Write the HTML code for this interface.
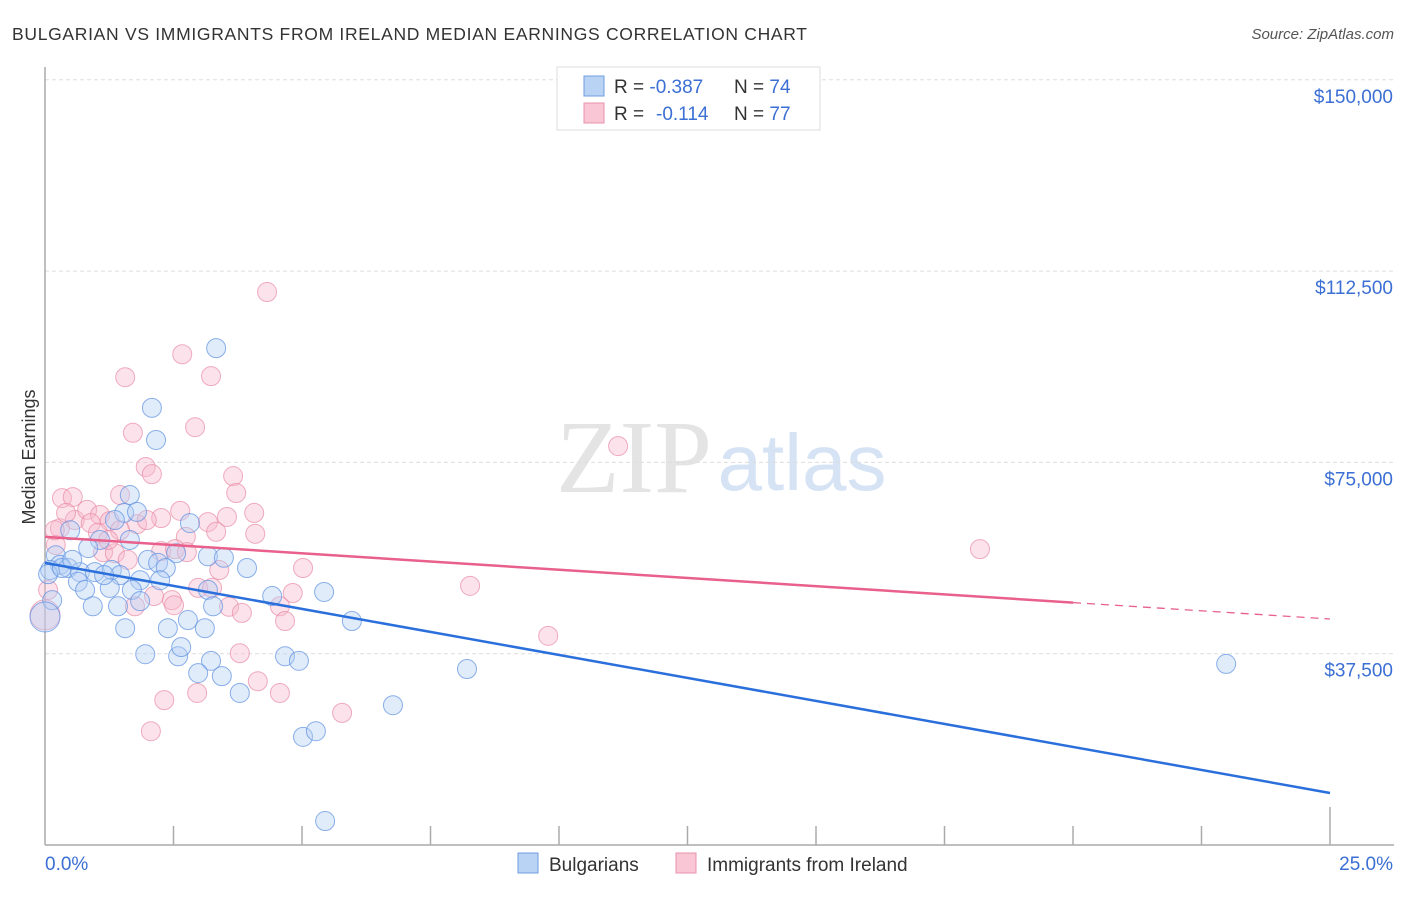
<!DOCTYPE html>
<html><head><meta charset="utf-8"><style>
body{margin:0;background:#fff;font-family:"Liberation Sans",sans-serif;}
svg text{font-family:"Liberation Sans",sans-serif;}
</style></head><body>
<svg id="chart" width="1406" height="892" viewBox="0 0 1406 892" xmlns="http://www.w3.org/2000/svg">
<text x="12" y="40" font-size="17.5" fill="#333" textLength="795">BULGARIAN VS IMMIGRANTS FROM IRELAND MEDIAN EARNINGS CORRELATION CHART</text>
<text x="1394" y="39" font-size="15" fill="#555" font-style="italic" text-anchor="end">Source: ZipAtlas.com</text>
<g>
<text x="634" y="492" font-size="104" fill="#e4e4e4" text-anchor="middle" style="font-family:'Liberation Serif',serif">ZIP</text>
<text x="802" y="490" font-size="80" fill="#d5e3f5" text-anchor="middle">atlas</text>
</g>
<g id="grid"></g>
<g id="axes"></g>
<g id="pts"></g>
<g id="lines"></g>
<text transform="translate(35,457) rotate(-90)" font-size="18" fill="#333" text-anchor="middle">Median Earnings</text>
<g>
<rect x="557" y="67" width="263" height="63" fill="#fff" stroke="#ddd"/>
<rect x="584" y="76" width="20" height="20" fill="#b9d3f5" stroke="#6f9ee0"/>
<rect x="584" y="103" width="20" height="20" fill="#f9c6d5" stroke="#ea93ad"/>
<text x="614" y="93" font-size="19" fill="#333">R = <tspan fill="#3b6fd4">-0.387</tspan><tspan x="734">N = </tspan><tspan fill="#3b6fd4">74</tspan></text>
<text x="614" y="120" font-size="19" fill="#333">R = <tspan x="656" fill="#3b6fd4">-0.114</tspan><tspan x="734">N = </tspan><tspan fill="#3b6fd4">77</tspan></text>
</g>
<g>
<rect x="518" y="853" width="20" height="20" fill="#b9d3f5" stroke="#6f9ee0"/>
<text x="549" y="871" font-size="19" fill="#333">Bulgarians</text>
<rect x="676" y="853" width="20" height="20" fill="#f9c6d5" stroke="#ea93ad"/>
<text x="707" y="871" font-size="19" fill="#333">Immigrants from Ireland</text>
</g>
</svg>
<script>
const yTicks=[37500,75000,112500,150000];
const yTickLabels=["$37,500","$75,000","$112,500","$150,000"];
const xTickCount=10;
const blueX=[3.33,2.08,2.16,1.65,1.54,1.79,1.36,2.82,0.49,1.07,1.65,0.84,3.17,3.48,2.00,2.20,2.55,2.35,3.93,0.21,0.29,0.10,0.45,0.68,0.97,1.30,1.46,0.64,0.78,1.26,1.85,1.69,2.24,3.17,4.42,5.43,0.93,1.42,1.85,3.27,1.56,2.39,2.78,3.11,5.97,1.95,2.59,2.65,3.23,4.67,4.94,2.98,3.44,3.79,8.21,6.77,5.02,5.27,5.45,22.98,0.06,0.14,0.33,0.53,1.15,0.0];
const blueY=[97400,85700,79400,68600,65100,65300,63700,63100,61700,59800,59800,58200,56600,56300,55900,55300,57200,54300,54300,56800,54900,53900,54300,53500,53500,53900,52900,51600,50000,50400,51900,50000,51900,50000,48800,49600,46800,46800,47800,46800,42500,42500,44100,42500,43900,37400,37000,38800,36100,37000,36100,33700,33100,29800,34500,27400,21200,22300,4700,35500,53100,48000,54300,55900,52900,44700];
const pinkX=[4.32,2.67,1.56,3.23,2.92,1.71,11.15,1.96,2.08,3.66,3.72,1.46,0.33,0.54,4.07,2.63,2.26,0.58,0.82,1.07,0.89,1.26,1.79,1.98,3.17,3.54,1.46,1.03,4.09,2.74,0.29,0.21,1.13,1.36,2.26,2.53,2.76,3.33,18.19,5.02,3.39,8.27,2.98,4.82,3.25,2.47,2.12,4.57,3.58,3.83,4.67,9.79,2.51,3.79,4.14,4.57,2.32,2.96,5.78,2.06,0.06,0.19,0.41,1.23,1.61,1.75,0.0];
const pinkY=[108400,96200,91700,91900,81900,80800,78200,74100,72700,72300,69000,68600,68000,68200,65100,65500,64100,63700,65700,64700,63100,63500,62900,63700,63300,64300,61700,61200,61000,60400,62100,58800,57400,57200,57600,58000,57400,61400,58000,54300,53900,50800,50400,49400,50400,48000,48800,46800,46700,45500,43900,41000,47000,37600,32100,29800,28400,29800,25900,22300,50000,61700,65100,59800,55900,46800,45100];
const blueTrend=[55300,10200];
const pinkTrend=[60400,44300];
const pinkSolidEnd=20;
const NS="http://www.w3.org/2000/svg";
const X=p=>45+p*(1285/25);
const Y=v=>845-v*(191.3/37500);
function mk(tag,attrs,parent){const e=document.createElementNS(NS,tag);for(const k in attrs)e.setAttribute(k,attrs[k]);parent.appendChild(e);return e;}
const grid=document.getElementById('grid'),axes=document.getElementById('axes'),pts=document.getElementById('pts'),lines=document.getElementById('lines');
yTicks.forEach((t,i)=>{
 const l=mk('line',{x1:45,x2:1394,y1:Y(t),y2:Y(t),stroke:'#ddd','stroke-dasharray':'4,3'},grid);
 
 
 const tx=mk('text',{x:1393,y:Y(t)+23,'font-size':19,fill:'#3b6fd4','text-anchor':'end'},grid);
 tx.textContent=yTickLabels[i];
 
 
});
const ya=mk('line',{x1:45,x2:45,y1:67,y2:845,stroke:'#aaa','stroke-width':1.5},axes);


const xa=mk('line',{x1:45,x2:1394,y1:845,y2:845,stroke:'#aaa','stroke-width':1.5},axes);


for(let i=1;i<=xTickCount;i++){const p=i*25/xTickCount;const t=mk('line',{x1:X(p),x2:X(p),y1:i==xTickCount?807:826,y2:845,stroke:'#aaa','stroke-width':1.5},axes);
 
 }
const xl0=mk('text',{x:45,y:870,'font-size':19,fill:'#3b6fd4'},axes);xl0.textContent='0.0%';


const xl1=mk('text',{x:1393,y:870,'font-size':19,fill:'#3b6fd4','text-anchor':'end'},axes);xl1.textContent='25.0%';


function drawPts(xs,ys,fill,stroke,name){xs.forEach((p,i)=>{const big=p===0;const c=mk('circle',{cx:X(p),cy:Y(ys[i]),r:big?15:9.5,fill:fill,'fill-opacity':0.4,stroke:stroke,'stroke-opacity':0.7,'stroke-width':1},pts);
 
 });}
drawPts(pinkX,pinkY,'#f7b9cc','#e88aa5','ireland-point');
drawPts(blueX,blueY,'#b3cff4','#5b8fe0','bulgarian-point');
const tb=mk('line',{x1:X(0),y1:Y(blueTrend[0]),x2:X(25),y2:Y(blueTrend[1]),stroke:'#2a6fdb','stroke-width':2.5},lines);


const pv=p=>pinkTrend[0]+(pinkTrend[1]-pinkTrend[0])*p/25;
const tp=mk('line',{x1:X(0),y1:Y(pv(0)),x2:X(pinkSolidEnd),y2:Y(pv(pinkSolidEnd)),stroke:'#e8608b','stroke-width':2.5},lines);


const tpd=mk('line',{x1:X(pinkSolidEnd),y1:Y(pv(pinkSolidEnd)),x2:X(25),y2:Y(pv(25)),stroke:'#e8608b','stroke-width':1.3,'stroke-dasharray':'8,6'},lines);


</script>
</body></html>
